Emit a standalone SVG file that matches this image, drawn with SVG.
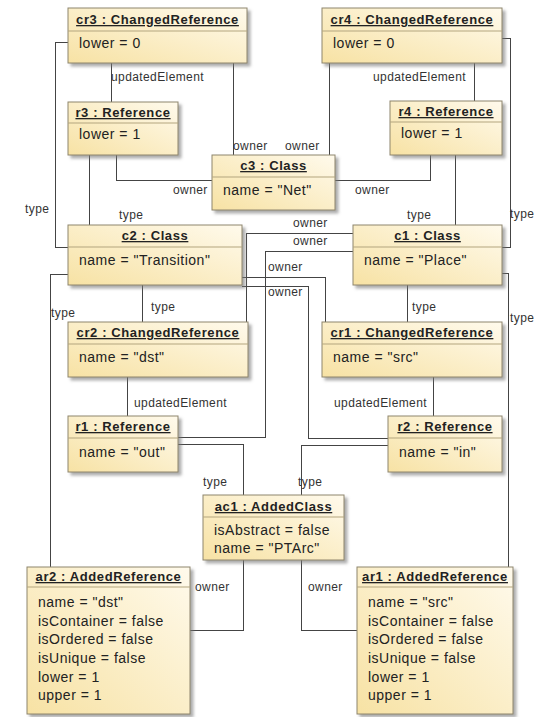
<svg xmlns="http://www.w3.org/2000/svg" width="535" height="717" viewBox="0 0 535 717">
<defs>
<linearGradient id="fillg" x1="0" y1="1" x2="1" y2="0">
<stop offset="0" stop-color="#f7e2a4"/>
<stop offset="1" stop-color="#fffaec"/>
</linearGradient>
<filter id="sh" x="-10%" y="-10%" width="130%" height="130%">
<feDropShadow dx="3" dy="3" stdDeviation="1.5" flood-color="#777" flood-opacity="0.6"/>
</filter>
<style>
.box{fill:url(#fillg);stroke:#8e856c;stroke-width:1;filter:url(#sh)}
.div{stroke:#b3a57e;stroke-width:1}
.hdr{font-family:"Liberation Sans",Arial,sans-serif;font-weight:bold;font-size:13px;letter-spacing:0.6px;text-anchor:middle;text-decoration:underline;fill:#222}
.attr{font-family:"Liberation Sans",Arial,sans-serif;font-size:14px;letter-spacing:0.5px;fill:#222}
.lbl{font-family:"Liberation Sans",Arial,sans-serif;font-size:12px;letter-spacing:0.4px;fill:#333}
.edge{fill:none;stroke:#444;stroke-width:1;shape-rendering:crispEdges}
</style>
</defs>
<rect width="535" height="717" fill="#ffffff"/>
<g id="connectors">
<path class="edge" d="M111,63 V102"/>
<path class="edge" d="M233,63 V155"/>
<path class="edge" d="M329,63 V155"/>
<path class="edge" d="M474,63 V101"/>
<path class="edge" d="M68,42 H55 V247 H68"/>
<path class="edge" d="M502,38 H510 V247 H502"/>
<path class="edge" d="M89,155 V225"/>
<path class="edge" d="M116,155 V180 H212"/>
<path class="edge" d="M430,155 V180 H335"/>
<path class="edge" d="M455,155 V225"/>
<path class="edge" d="M246,322 V233 H353"/>
<path class="edge" d="M178,437 H265 V251 H353"/>
<path class="edge" d="M242,277 H325 V322"/>
<path class="edge" d="M242,286 H308 V438 H388"/>
<path class="edge" d="M68,274 H50 V567"/>
<path class="edge" d="M142,285 V322"/>
<path class="edge" d="M127,377 V416"/>
<path class="edge" d="M407,285 V322"/>
<path class="edge" d="M433,377 V416"/>
<path class="edge" d="M502,273 H508 V567"/>
<path class="edge" d="M178,444 H243 V495"/>
<path class="edge" d="M388,445 H301 V495"/>
<path class="edge" d="M243,560 V630 H190"/>
<path class="edge" d="M301,560 V630 H357"/>
<text class="lbl" x="111" y="81">updatedElement</text>
<text class="lbl" x="233" y="150">owner</text>
<text class="lbl" x="285" y="150">owner</text>
<text class="lbl" x="373" y="81">updatedElement</text>
<text class="lbl" x="173" y="194">owner</text>
<text class="lbl" x="355" y="194">owner</text>
<text class="lbl" x="25" y="213">type</text>
<text class="lbl" x="119" y="219">type</text>
<text class="lbl" x="407" y="219">type</text>
<text class="lbl" x="510" y="218">type</text>
<text class="lbl" x="293" y="227">owner</text>
<text class="lbl" x="293" y="245">owner</text>
<text class="lbl" x="268" y="271">owner</text>
<text class="lbl" x="268" y="296">owner</text>
<text class="lbl" x="51" y="317">type</text>
<text class="lbl" x="151" y="311">type</text>
<text class="lbl" x="412" y="311">type</text>
<text class="lbl" x="510" y="322">type</text>
<text class="lbl" x="134" y="407">updatedElement</text>
<text class="lbl" x="334" y="407">updatedElement</text>
<text class="lbl" x="203" y="486">type</text>
<text class="lbl" x="298" y="486">type</text>
<text class="lbl" x="195" y="591">owner</text>
<text class="lbl" x="308" y="591">owner</text>
</g>
<g id="cr3">
<rect class="box" x="68" y="8" width="179" height="55"/>
<line class="div" x1="68" y1="31" x2="247" y2="31"/>
<text class="hdr" x="157.5" y="24">cr3 : ChangedReference</text>
<text class="attr" x="79" y="48">lower = 0</text>
</g>
<g id="cr4">
<rect class="box" x="322" y="8" width="180" height="55"/>
<line class="div" x1="322" y1="31" x2="502" y2="31"/>
<text class="hdr" x="412" y="24">cr4 : ChangedReference</text>
<text class="attr" x="333" y="48">lower = 0</text>
</g>
<g id="r3">
<rect class="box" x="68" y="102" width="110" height="53"/>
<line class="div" x1="68" y1="123" x2="178" y2="123"/>
<text class="hdr" x="123" y="117">r3 : Reference</text>
<text class="attr" x="79" y="139">lower = 1</text>
</g>
<g id="r4">
<rect class="box" x="390" y="101" width="112" height="54"/>
<line class="div" x1="390" y1="122" x2="502" y2="122"/>
<text class="hdr" x="446" y="116">r4 : Reference</text>
<text class="attr" x="401" y="138">lower = 1</text>
</g>
<g id="c3">
<rect class="box" x="212" y="155" width="123" height="55"/>
<line class="div" x1="212" y1="177" x2="335" y2="177"/>
<text class="hdr" x="273.5" y="170">c3 : Class</text>
<text class="attr" x="223" y="195">name = "Net"</text>
</g>
<g id="c2">
<rect class="box" x="68" y="225" width="174" height="60"/>
<line class="div" x1="68" y1="247" x2="242" y2="247"/>
<text class="hdr" x="155" y="240">c2 : Class</text>
<text class="attr" x="79" y="265">name = "Transition"</text>
</g>
<g id="c1">
<rect class="box" x="353" y="225" width="149" height="60"/>
<line class="div" x1="353" y1="247" x2="502" y2="247"/>
<text class="hdr" x="427.5" y="240">c1 : Class</text>
<text class="attr" x="364" y="265">name = "Place"</text>
</g>
<g id="cr2">
<rect class="box" x="68" y="322" width="180" height="55"/>
<line class="div" x1="68" y1="344" x2="248" y2="344"/>
<text class="hdr" x="158" y="337">cr2 : ChangedReference</text>
<text class="attr" x="79" y="362">name = "dst"</text>
</g>
<g id="cr1">
<rect class="box" x="322" y="322" width="180" height="55"/>
<line class="div" x1="322" y1="344" x2="502" y2="344"/>
<text class="hdr" x="412" y="337">cr1 : ChangedReference</text>
<text class="attr" x="333" y="362">name = "src"</text>
</g>
<g id="r1">
<rect class="box" x="68" y="416" width="110" height="56"/>
<line class="div" x1="68" y1="438" x2="178" y2="438"/>
<text class="hdr" x="123" y="431">r1 : Reference</text>
<text class="attr" x="79" y="457">name = "out"</text>
</g>
<g id="r2">
<rect class="box" x="388" y="416" width="114" height="56"/>
<line class="div" x1="388" y1="438" x2="502" y2="438"/>
<text class="hdr" x="445" y="431">r2 : Reference</text>
<text class="attr" x="399" y="457">name = "in"</text>
</g>
<g id="ac1">
<rect class="box" x="203" y="495" width="141" height="65"/>
<line class="div" x1="203" y1="517" x2="344" y2="517"/>
<text class="hdr" x="273.5" y="511">ac1 : AddedClass</text>
<text class="attr" x="214" y="535">isAbstract = false</text>
<text class="attr" x="214" y="553">name = "PTArc"</text>
</g>
<g id="ar2">
<rect class="box" x="27" y="567" width="163" height="147"/>
<line class="div" x1="27" y1="587" x2="190" y2="587"/>
<text class="hdr" x="108.5" y="581">ar2 : AddedReference</text>
<text class="attr" x="38" y="607">name = "dst"</text>
<text class="attr" x="38" y="625.5">isContainer = false</text>
<text class="attr" x="38" y="644">isOrdered = false</text>
<text class="attr" x="38" y="662.5">isUnique = false</text>
<text class="attr" x="38" y="681.5">lower = 1</text>
<text class="attr" x="38" y="700">upper = 1</text>
</g>
<g id="ar1">
<rect class="box" x="357" y="567" width="156" height="147"/>
<line class="div" x1="357" y1="587" x2="513" y2="587"/>
<text class="hdr" x="435" y="581">ar1 : AddedReference</text>
<text class="attr" x="368" y="607">name = "src"</text>
<text class="attr" x="368" y="625.5">isContainer = false</text>
<text class="attr" x="368" y="644">isOrdered = false</text>
<text class="attr" x="368" y="662.5">isUnique = false</text>
<text class="attr" x="368" y="681.5">lower = 1</text>
<text class="attr" x="368" y="700">upper = 1</text>
</g>
</svg>
